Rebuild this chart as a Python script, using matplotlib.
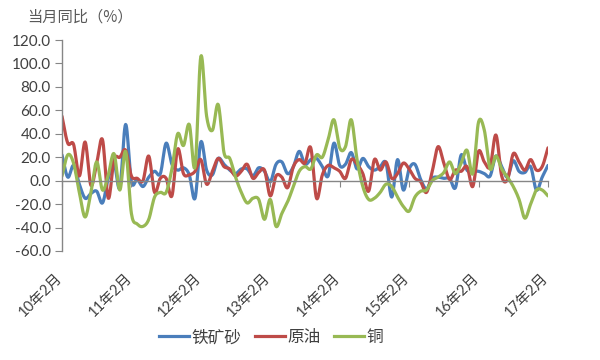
import numpy as np
import matplotlib
matplotlib.use("Agg")
import matplotlib.pyplot as plt
from matplotlib.lines import Line2D
from matplotlib.transforms import ScaledTranslation

plt.rcParams['font.family'] = ['Lato', 'Noto Sans CJK SC', 'DejaVu Sans']

# ---- data ----
tick_labels = ['10年2月', '11年2月', '12年2月', '13年2月', '14年2月', '15年2月', '16年2月', '17年2月']
series_names = ['铁矿砂', '原油', '铜']

iron_ore = [22, 3, 13, -3, -15, -11, -9, -19, 2, 15,
            -6, 48, -1, 1, -5, 3, 8, 6, 32, 14,
            9, 11, 5, -15, 33, 9, 5, 19, 14, 9,
            6, 10, 10, 4, 11, 8, -1, 14, 16, 6,
            12, 25, 14, 18, 19, 12, 4, 32, 13, 14,
            24, 10, 19, 12, 9, 12, 15, -14, 18, -8,
            10, 14, 1, -7, 2, 3, 2, 2, -6, 22,
            9, 8, 8, 6, 4, 21, 12, 3, 17, 8,
            7, 12, -8, 3, 13]

crude_oil = [55, 32, 31, 4, 33, -4, 15, 35, -15, 18,
             20, 26, 4, 2, 0, 21, -10, 2, 2, -13,
             27, 6, 5, 8, 18, -3, 8, 19, 12, 10,
             4, 8, 14, 2, 7, 9, -13, 4, 3, -6,
             12, 18, 15, 28, -15, 5, 13, 11, 8, 2,
             18, 14, 6, -9, 18, 9, 16, 2, 6, 15,
             10, 2, -1, -10, 8, 29, 15, 1, 9, 8,
             12, -5, 25, 16, 12, 39, 4, 1, 23, 16,
             9, 18, 9, 12, 28]

copper = [4, 22, 15, -10, -31, -10, 16, -8, 5, 23,
          -8, 25, -28, -37, -39, -33, -14, -10, -10, 10,
          40, 30, 48, 12, 106, 55, 43, 65, 24, 19,
          3, -10, -19, -15, -16, -33, -16, -39, -28, -18,
          -5, 8, 12, 10, 22, 20, 35, 52, 28, 29,
          52, 18, -5, -16, -15, -10, -3, -5, -14, -22,
          -26, -14, -9, -8, 0, 3, 7, 16, 6, 15,
          26, 6, 50, 43, 10, 21, 10, 3, -5, -16,
          -32, -20, -8, -8, -13]

colors = ['#4A7EBB', '#BE4B48', '#98B954']


def smooth(y, n=12):
    """Catmull-Rom style smoothing (like Excel's smoothed line) for display."""
    y = np.asarray(y, dtype=float)
    x = np.arange(len(y), dtype=float)
    m = np.empty_like(y)
    m[1:-1] = (y[2:] - y[:-2]) / 2.0
    m[0] = y[1] - y[0]
    m[-1] = y[-1] - y[-2]
    xs, ys = [], []
    t = np.linspace(0, 1, n, endpoint=False)
    h00 = 2 * t**3 - 3 * t**2 + 1
    h10 = t**3 - 2 * t**2 + t
    h01 = -2 * t**3 + 3 * t**2
    h11 = t**3 - t**2
    for i in range(len(y) - 1):
        xs.append(x[i] + t)
        ys.append(h00 * y[i] + h10 * m[i] + h01 * y[i + 1] + h11 * m[i + 1])
    xs.append([x[-1]])
    ys.append([y[-1]])
    return np.concatenate(xs), np.concatenate(ys)


fig = plt.figure(figsize=(6.0, 3.6), dpi=100)
ax = fig.add_axes([0.1033, 0.3028, 0.81, 0.586])

n = len(iron_ore)
for vals, col in zip([iron_ore, crude_oil, copper], colors):
    sx, sy = smooth(vals)
    ax.plot(sx, sy, color=col, lw=2.3, solid_capstyle='round', solid_joinstyle='round')

ax.set_xlim(0, n - 1)
ax.set_ylim(-60, 120)
yt = np.arange(-60, 121, 20)
ax.set_yticks(yt)
ax.set_yticklabels([f'{v:.1f}' for v in yt])

gray = '#868686'
txtc = '#404040'
for s in ['top', 'right', 'bottom']:
    ax.spines[s].set_visible(False)
ax.spines['left'].set_color(gray)
ax.spines['left'].set_linewidth(1.0)
ax.tick_params(axis='y', direction='out', length=5, color=gray, labelsize=11,
               labelcolor=txtc, pad=3)

# category labels at the bottom
tick_pos = np.arange(0, n, 12)
ax.set_xticks(tick_pos)
ax.set_xticklabels(tick_labels, rotation=45, ha='right', va='top',
                   rotation_mode='anchor', fontsize=10.5, color=txtc)
ax.tick_params(axis='x', length=0, pad=8)
off = ScaledTranslation(-5 / 72, -6 / 72, fig.dpi_scale_trans)
for lab in ax.get_xticklabels():
    lab.set_transform(lab.get_transform() + off)

# zero line axis with tick marks
axz = ax.twiny()
axz.set_xlim(ax.get_xlim())
for s in ['top', 'right', 'left']:
    axz.spines[s].set_visible(False)
axz.spines['bottom'].set_position(('data', 0))
axz.spines['bottom'].set_color(gray)
axz.spines['bottom'].set_linewidth(1.0)
axz.xaxis.set_ticks_position('bottom')
axz.set_xticks(tick_pos)
axz.tick_params(axis='x', direction='out', length=4, color=gray,
                labelbottom=False, labeltop=False)

fig.text(0.045, 0.953, '当月同比（%）', fontsize=11, color='#595959',
         ha='left', va='center', family=['Noto Sans CJK SC', 'DejaVu Sans'])

handles = [Line2D([0], [0], color=c, lw=2.3) for c in colors]
leg = fig.legend(handles, series_names, loc='center', bbox_to_anchor=(0.452, 0.062),
                 ncol=3, frameon=False, handlelength=1.8,
                 handletextpad=0.15, columnspacing=0.8,
                 prop={'family': ['Noto Sans CJK SC', 'DejaVu Sans'], 'size': 12})
for t in leg.get_texts():
    t.set_color(txtc)

fig.savefig('out.png', dpi=100, facecolor='white')
